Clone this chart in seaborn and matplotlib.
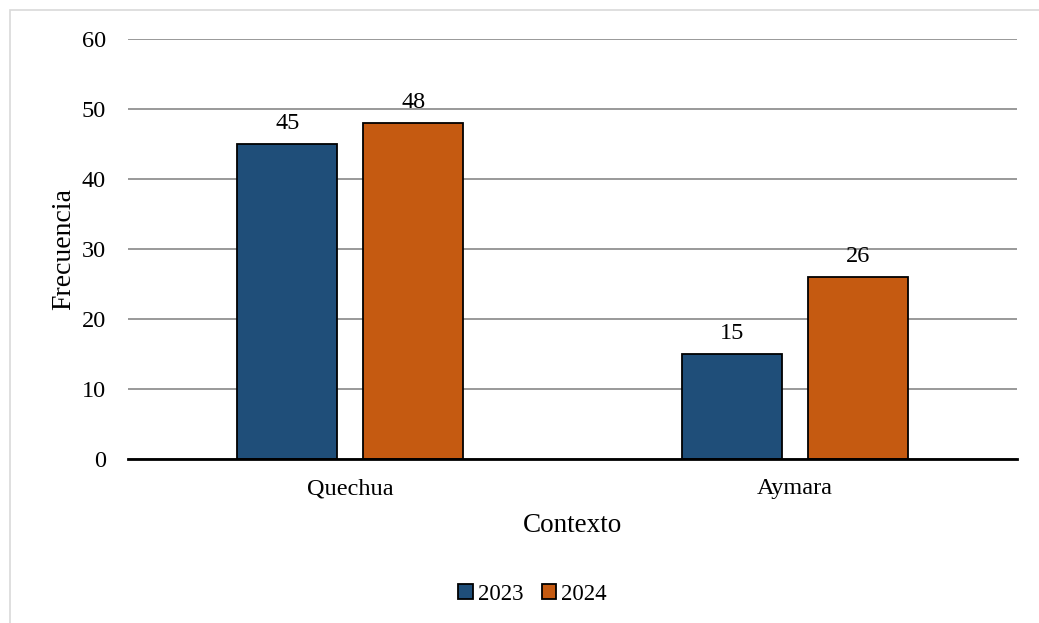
import pandas as pd
import matplotlib.pyplot as plt
import seaborn as sns

contextos = ['Quechua', 'Aymara']
anios = ['2023', '2024']
frec_2023 = [45, 15]
frec_2024 = [48, 26]

df = pd.DataFrame({
    'Contexto': contextos * 2,
    'Año': [anios[0]] * 2 + [anios[1]] * 2,
    'Frecuencia': frec_2023 + frec_2024,
})

sns.set_theme(style='white')
plt.rcParams['font.family'] = ['Liberation Serif', 'DejaVu Serif']
plt.rcParams['text.color'] = 'black'
plt.rcParams['axes.labelcolor'] = 'black'

colores = ['#1F4E79', '#C55A11']

fig = plt.figure(figsize=(10.39, 6.23), dpi=100)
ax = fig.add_axes([0.1232, 0.2632, 0.8556, 0.6742])

sns.barplot(data=df, x='Contexto', y='Frecuencia', hue='Año', palette=colores,
            width=0.567, gap=0.206, edgecolor='black', linewidth=1.3,
            saturation=1, ax=ax, zorder=3)

for cont in ax.containers:
    ax.bar_label(cont, fmt='%d', padding=7, fontsize=17.5, color='black')

ax.set_ylim(0, 60)
ax.set_yticks(range(0, 61, 10))
ax.grid(axis='y', color='#999999', linewidth=1.4, zorder=0)
ax.set_axisbelow(True)
for s in ['top', 'right', 'left']:
    ax.spines[s].set_visible(False)
ax.spines['bottom'].set_color('black')
ax.spines['bottom'].set_linewidth(2)
ax.spines['bottom'].set_zorder(4)
ax.tick_params(axis='both', length=0, labelsize=17.5, colors='black')
ax.tick_params(axis='y', pad=16)
ax.tick_params(axis='x', pad=14)
ax.set_xlabel('Contexto', fontsize=19.5, labelpad=10)
ax.set_ylabel('Frecuencia', fontsize=20, labelpad=4)

ax.legend(loc='center', bbox_to_anchor=(0.455, -0.322), ncol=2, frameon=False,
          fontsize=16.5, handlelength=0.65, handleheight=0.65, handletextpad=0.2,
          columnspacing=0.8, title=None)

# light frame of the chart area
fig.patches.append(plt.Rectangle((10 / 1039, -0.05), 1.1, 1 - 10 / 623 + 0.05,
                                 transform=fig.transFigure, fill=False,
                                 edgecolor='#D9D9D9', linewidth=1.2))

fig.savefig('out.png', dpi=100)
